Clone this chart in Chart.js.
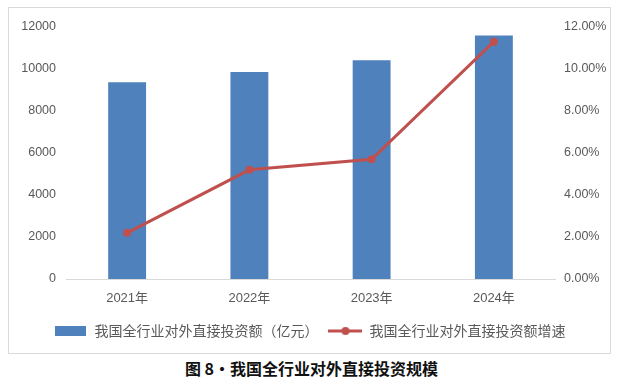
<!DOCTYPE html>
<html>
<head>
<meta charset="utf-8">
<script src="https://cdn.jsdelivr.net/npm/chart.js@4/dist/chart.umd.min.js"></script>
<style>
  html, body { margin: 0; padding: 0; background: #ffffff; width: 623px; height: 383px; overflow: hidden; }
  #box { position: absolute; left: 8px; top: 7px; width: 601px; height: 345px; border: 1px solid #d9d9d9; }
  #c { display: block; }
  #cap { position: absolute; left: 0; width: 623px; top: 357px; text-align: center;
         font-family: "Noto Sans CJK SC", sans-serif; font-weight: bold; font-size: 16px; color: #111; line-height: 22px; }
</style>
</head>
<body>
<div id="box"><canvas id="c" width="601" height="345"></canvas></div>
<div id="cap">图 8·我国全行业对外直接投资规模</div>
<script>
const categories = ["2021年", "2022年", "2023年", "2024年"];
const investAmount = [9366.9, 9853.7, 10418.5, 11592];
const growthRate = [2.2, 5.2, 5.7, 11.3];
const barLabel = "我国全行业对外直接投资额（亿元）";
const lineLabel = "我国全行业对外直接投资额增速";
const leftTicks = [0, 2000, 4000, 6000, 8000, 10000, 12000];
const rightTicks = [0, 2, 4, 6, 8, 10, 12];

const BLUE = "#4F81BD";
const RED = "#C0504D";
const TXT = "#595959";
const FONT = '"Liberation Sans", "Noto Sans CJK SC", sans-serif';

function makeBarIcon() {
  const c = document.createElement("canvas");
  c.width = 31; c.height = 10;
  const g = c.getContext("2d");
  g.fillStyle = BLUE; g.fillRect(0, 0, 31, 10);
  return c;
}
function makeLineIcon() {
  const c = document.createElement("canvas");
  c.width = 34; c.height = 10;
  const g = c.getContext("2d");
  g.strokeStyle = RED; g.lineWidth = 3;
  g.beginPath(); g.moveTo(0, 5); g.lineTo(34, 5); g.stroke();
  g.fillStyle = RED; g.beginPath(); g.arc(17, 5, 4, 0, Math.PI * 2); g.fill();
  return c;
}
const barIcon = makeBarIcon();
const lineIcon = makeLineIcon();

new Chart(document.getElementById("c"), {
  data: {
    labels: categories,
    datasets: [
      {
        type: "bar",
        label: barLabel,
        data: investAmount,
        backgroundColor: BLUE,
        borderWidth: 0,
        yAxisID: "y",
        order: 2,
        categoryPercentage: 1.0,
        barPercentage: 0.31
      },
      {
        type: "line",
        label: lineLabel,
        data: growthRate,
        borderColor: RED,
        backgroundColor: RED,
        borderWidth: 3,
        pointRadius: 4,
        pointBackgroundColor: RED,
        pointBorderColor: RED,
        pointBorderWidth: 0,
        tension: 0,
        yAxisID: "y1",
        order: 1
      }
    ]
  },
  options: {
    responsive: false,
    devicePixelRatio: 1,
    animation: false,
    layout: { padding: { top: 19, left: 0, right: 0, bottom: 5 } },
    plugins: {
      tooltip: { enabled: false },
      legend: {
        position: "bottom",
        labels: {
          usePointStyle: true,
          pointStyleWidth: 34,
          boxHeight: 10,
          padding: 10,
          color: TXT,
          font: { family: '"Noto Sans CJK SC", sans-serif', size: 14 },
          generateLabels: (chart) => [
            { text: barLabel, pointStyle: barIcon, fillStyle: BLUE, strokeStyle: BLUE, lineWidth: 0, hidden: false, datasetIndex: 0, fontColor: TXT },
            { text: lineLabel, pointStyle: lineIcon, fillStyle: RED, strokeStyle: RED, lineWidth: 0, hidden: false, datasetIndex: 1, fontColor: TXT }
          ]
        }
      }
    },
    scales: {
      x: {
        grid: { display: false, drawTicks: false },
        border: { display: true, color: "#d9d9d9", width: 1 },
        ticks: { color: TXT, font: { family: FONT, size: 13 }, padding: 12, maxRotation: 0 },
        afterFit: (s) => { s.height = 35; }
      },
      y: {
        position: "left",
        min: 0, max: 12000,
        grid: { display: false, drawTicks: false },
        border: { display: false },
        afterBuildTicks: (s) => { s.ticks = leftTicks.map(v => ({ value: v })); },
        ticks: { color: TXT, font: { family: FONT, size: 12.5 }, padding: 10, callback: (v) => String(v) },
        afterFit: (s) => { s.width = 57; }
      },
      y1: {
        position: "right",
        min: 0, max: 12,
        grid: { display: false, drawTicks: false },
        border: { display: false },
        afterBuildTicks: (s) => { s.ticks = rightTicks.map(v => ({ value: v })); },
        ticks: { color: TXT, font: { family: FONT, size: 12.5 }, padding: 9, callback: (v) => Number(v).toFixed(2) + "%" },
        afterFit: (s) => { s.width = 55; }
      }
    }
  }
});
</script>
</body>
</html>
